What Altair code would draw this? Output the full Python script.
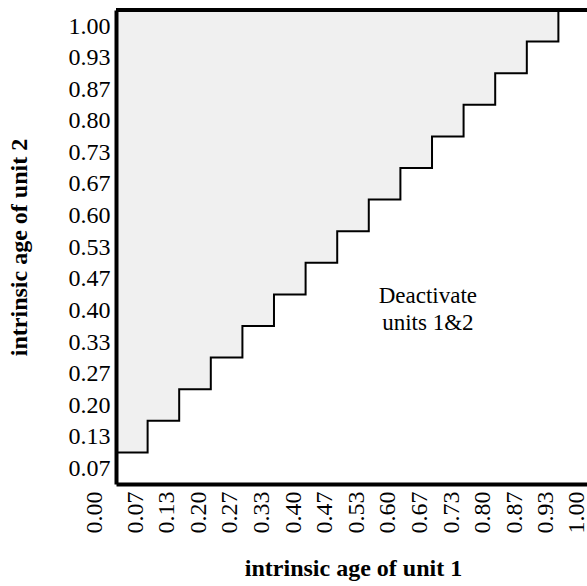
import altair as alt
import pandas as pd

# tick values (multiples of 1/15)
x_ticks = [0.0, 0.0667, 0.1333, 0.2, 0.2667, 0.3333, 0.4, 0.4667, 0.5333,
           0.6, 0.6667, 0.7333, 0.8, 0.8667, 0.9333, 1.0]
y_ticks = [0.0667, 0.1333, 0.2, 0.2667, 0.3333, 0.4, 0.4667, 0.5333,
           0.6, 0.6667, 0.7333, 0.8, 0.8667, 0.9333, 1.0]

# staircase boundary (step-after)
step_x = [0.0, 0.0667, 0.1333, 0.2, 0.2667, 0.3333, 0.4, 0.4667, 0.5333,
          0.6, 0.6667, 0.7333, 0.8, 0.8667, 0.9333, 1.0]
step_y = [0.0667, 0.1333, 0.2, 0.2667, 0.3333, 0.4, 0.4667, 0.5333, 0.6,
          0.6667, 0.7333, 0.8, 0.8667, 0.9333, 1.0, 1.0]
step_top = [1.0] * len(step_x)

label_text = [["Deactivate", "units 1&2"]]
label_x = [0.658]
label_y = [0.382]

FONT = "Liberation Serif"

steps = pd.DataFrame({"x": step_x, "y": step_y, "top": step_top})
ann = pd.DataFrame({"x": label_x, "y": label_y, "t": label_text})
border = pd.DataFrame({"x": [0.0], "x2": [1.0], "y": [1.0]})

xscale = alt.Scale(domain=[0, 1], range=[0, 474], nice=False, zero=False)
yscale = alt.Scale(domain=[0, 1], nice=False, zero=False)

x_axis = alt.Axis(
    values=x_ticks, format=".2f", title="intrinsic age of unit 1",
    labelAngle=-90, labelAlign="right", labelBaseline="middle",
    labelPadding=5, labelFont=FONT, labelFontSize=24, labelColor="black",
    labelOverlap=False, labelFlush=False, labelBound=False,
    labelOffset={"condition": {"test": "datum.value == 0 || datum.value == 1",
                               "value": -14},
                 "value": -12.5},
    ticks=True, tickColor="white", tickSize=2, tickWidth=1,
    domainColor="black", domainWidth=4, grid=False, orient="bottom",
    titleFont=FONT, titleFontSize=24, titleFontWeight="bold", titleColor="black",
    titleX=237, titleY=91, titleBaseline="alphabetic", titleAlign="center",
    zindex=1,
)
# the 0.00 label sits further left in the reference
x_axis_dx = {"condition": {"test": "datum.value == 0", "value": -22},
             "value": -12.5}
x_axis["labelOffset"] = {"condition": [
    {"test": "datum.value == 0", "value": -22},
    {"test": "datum.value == 1", "value": -14},
], "value": -12.5}

y_axis = alt.Axis(
    values=y_ticks, format=".2f", title="intrinsic age of unit 2",
    labelAlign="right", labelBaseline="middle", labelPadding=6,
    labelFont=FONT, labelFontSize=24, labelColor="black",
    labelOverlap=False, labelFlush=False, labelBound=False, labelOffset=16,
    ticks=False, domainColor="black", domainWidth=4, grid=False, orient="left",
    titleFont=FONT, titleFontSize=24, titleFontWeight="bold", titleColor="black",
    titleAngle=-90, titleX=-90, titleY=237, titleBaseline="alphabetic", titleAlign="center",
    zindex=1,
)

X = alt.X("x:Q", scale=xscale, axis=x_axis)
Y = alt.Y("y:Q", scale=yscale, axis=y_axis)

area = alt.Chart(steps).mark_area(interpolate="step-after", color="#f0f0f0").encode(
    x=X, y=Y, y2="top:Q",
)
line = alt.Chart(steps).mark_line(interpolate="step-after", color="black", strokeWidth=2).encode(
    x=X, y=Y,
)
top_rule = alt.Chart(border).mark_rule(color="black", strokeWidth=4).encode(
    x=X, x2="x2:Q", y=Y
)
text = alt.Chart(ann).mark_text(
    font=FONT, fontSize=23, align="center", baseline="alphabetic", lineHeight=27, color="black"
).encode(
    x=X, y=Y, text="t"
)

chart = alt.layer(area, line, top_rule, text).properties(
    width=471, height=474,
    autosize=alt.AutoSizeParams(type="none"),
    padding={"left": 116, "top": 10, "right": 0, "bottom": 102},
    background="white",
).configure_view(strokeWidth=0, stroke="transparent")

chart.save("out.html", embed_options={"renderer": "svg", "actions": False})
